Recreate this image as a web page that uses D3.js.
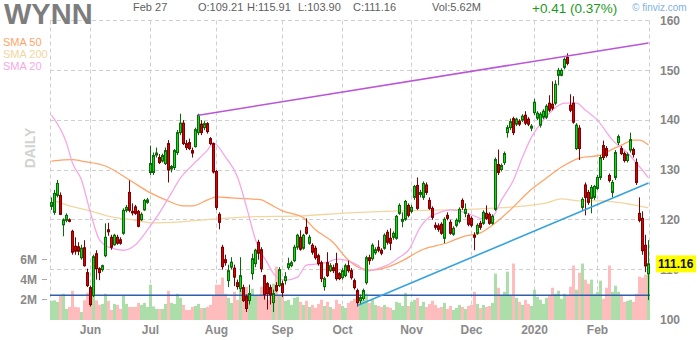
<!DOCTYPE html>
<html><head><meta charset="utf-8">
<script src="https://cdn.jsdelivr.net/npm/d3@7"></script>
<style>
html,body{margin:0;padding:0;background:#fff;}
svg{display:block;font-family:"Liberation Sans",Arial,Helvetica,sans-serif;}
</style></head><body>
<svg id="c" width="700" height="340"></svg>
<script>
// ---------------- DATA ----------------
const ticker = "WYNN";
const startDate = "2019-05-14";
const holidays = ["2019-05-27","2019-07-04","2019-09-02","2019-11-28","2019-12-25","2020-01-01","2020-01-20","2020-02-17"];
const headerLabels = ["Feb 27","O:109.21","H:115.91","L:103.90","C:111.16","Vol:5.62M"];
const changeLabel = "+0.41 (0.37%)";
const lastPrice = 111.16;

const opens = [122.7,121.5,124.9,124.9,119.0,119.9,120.0,117.7,114.7,114.6,112.4,114.4,109.4,106.4,104.8,113.2,110.2,110.0,112.8,118.0,
116.5,115.0,116.5,116.0,117.3,121.9,125.5,121.7,122.6,121.7,120.0,122.0,123.5,129.5,129.5,133.0,132.5,131.8,131.3,135.3,
130.2,130.5,133.5,137.5,139.4,135.3,135.5,133.9,134.7,137.5,139.2,138.5,139.3,136.3,135.3,129.7,121.1,114.5,112.0,107.8,
110.5,110.3,107.4,106.2,106.4,104.6,103.8,109.2,111.2,115.5,114.0,108.8,107.2,106.4,103.4,106.8,106.8,107.2,107.8,110.4,
110.8,111.8,114.5,116.5,114.3,118.5,115.3,114.9,114.3,112.8,111.4,106.6,111.4,109.8,110.4,111.2,109.2,108.4,108.8,110.8,
109.8,107.8,105.8,103.8,104.2,107.4,112.4,112.2,113.4,114.5,113.9,114.3,117.5,116.3,116.5,116.3,121.3,119.7,120.1,122.9,
121.7,124.5,126.9,125.1,124.5,127.0,123.9,122.3,118.9,118.8,119.1,116.3,120.9,119.5,117.1,118.9,119.7,123.9,121.3,120.9,
120.3,116.9,117.3,119.3,119.3,121.3,121.1,119.3,122.1,131.1,130.1,131.5,137.5,138.5,140.3,139.2,139.8,140.0,141.0,140.2,
138.4,141.5,140.4,139.0,140.6,140.6,143.4,143.2,143.4,149.0,149.0,150.6,152.6,143.0,143.4,134.3,138.4,122.5,127.0,125.5,
124.3,124.5,126.3,128.5,134.9,134.3,128.9,125.5,128.5,135.5,134.3,133.3,131.9,134.0,134.1,131.5,121.3,120.3,114.9,109.21];
const highs = [124.5,126.0,128.0,125.5,120.3,121.3,120.3,118.0,116.5,115.5,115.0,115.9,110.2,106.8,113.0,113.9,110.5,111.0,119.3,119.4,
117.0,117.2,117.0,116.5,122.3,123.0,127.9,123.3,123.0,122.0,121.5,124.2,124.4,134.9,133.5,134.5,133.2,133.3,134.5,136.0,
131.0,134.2,138.0,141.3,140.0,136.0,136.3,134.5,138.5,141.3,140.0,139.8,139.6,136.6,135.5,130.0,121.5,115.0,113.0,111.0,
112.5,111.0,108.0,112.5,107.0,105.0,107.0,113.2,114.2,116.0,114.5,109.0,107.5,107.0,106.0,107.5,110.5,107.8,109.5,112.4,
111.8,115.0,117.2,117.9,117.2,120.3,117.0,115.3,114.8,113.2,111.8,108.6,113.5,111.3,111.0,113.4,109.5,110.3,111.2,111.8,
110.3,108.2,106.2,105.0,106.2,112.8,113.0,115.3,114.5,115.9,114.3,117.3,118.0,118.3,117.7,121.0,123.3,121.5,124.0,123.3,
123.0,127.0,128.5,126.0,127.7,127.5,124.5,122.7,119.5,119.3,119.5,120.5,121.5,120.0,118.7,120.3,122.5,124.3,123.3,121.3,
120.7,117.5,119.3,119.8,121.9,122.9,121.5,121.1,132.5,134.1,131.3,133.7,139.0,140.3,140.7,140.5,140.2,141.2,141.8,140.6,
139.2,144.3,141.8,141.6,142.2,143.2,145.0,147.8,148.0,150.5,150.4,152.6,153.4,145.2,144.8,139.4,139.0,124.5,127.5,126.0,
127.0,127.0,129.0,133.0,135.9,134.8,129.3,128.0,134.0,137.1,134.8,133.7,133.5,137.5,134.5,132.3,124.5,121.7,117.0,115.91];
const lows = [122.0,121.0,124.5,121.0,116.7,119.5,119.5,113.0,113.0,112.9,112.0,110.6,106.5,102.6,104.5,108.0,107.9,109.6,112.5,116.8,
114.0,114.8,115.0,115.0,117.0,121.5,121.5,120.9,121.0,118.5,119.8,121.8,123.2,129.0,129.0,132.5,131.2,131.5,131.0,127.5,
129.5,130.0,133.0,137.0,135.0,134.0,134.0,132.5,134.5,137.0,137.0,138.0,137.3,135.0,129.3,122.0,118.1,110.0,110.8,106.5,
110.0,106.7,106.0,105.5,103.5,101.5,103.0,108.0,110.5,112.0,109.5,104.0,102.0,103.0,101.5,105.5,106.5,104.5,107.0,110.0,
110.5,111.5,114.0,113.8,114.0,117.0,115.0,113.0,112.0,110.8,107.5,105.8,108.5,109.5,109.3,107.8,107.9,108.0,108.5,109.4,
108.0,106.0,102.6,102.9,103.8,107.0,111.0,111.8,113.0,113.5,112.9,114.0,115.0,113.9,116.0,116.0,121.0,118.5,119.8,120.5,
121.3,124.0,122.0,124.5,124.0,125.0,122.0,120.0,118.0,117.6,117.0,115.3,119.9,117.0,116.8,118.5,119.3,122.0,120.5,118.7,
118.5,113.9,117.0,118.0,119.0,120.0,119.0,119.0,121.8,129.0,129.7,131.0,136.5,138.0,137.0,138.8,138.8,139.6,139.0,138.8,
137.8,141.0,140.0,138.5,140.2,140.2,141.6,142.0,143.0,147.0,148.8,150.2,151.0,141.6,139.3,134.0,132.0,122.0,120.9,123.0,
121.3,124.0,126.0,128.0,132.0,132.5,127.5,124.5,128.0,135.0,133.0,131.5,131.5,133.5,132.5,127.0,119.5,113.0,109.5,103.90];
const closes = [123.5,125.3,127.3,121.1,120.0,120.9,119.7,113.5,113.7,113.7,114.3,110.8,106.8,103.0,112.6,110.2,109.4,110.8,116.5,117.6,
114.5,116.9,115.3,115.3,121.9,122.5,121.9,121.4,121.3,118.7,121.1,123.9,124.0,131.3,132.9,133.4,131.5,132.9,133.9,130.0,
130.7,133.9,137.5,139.4,135.3,134.5,134.3,133.4,138.1,141.0,137.5,139.3,137.7,135.3,129.6,122.5,119.5,110.6,111.4,109.8,
111.5,108.5,106.6,108.8,103.8,102.2,105.2,112.2,113.9,113.3,110.2,105.0,105.2,105.0,105.2,105.8,110.0,105.4,108.6,111.2,
111.4,114.5,116.9,114.1,116.9,117.3,116.5,113.5,112.4,111.2,108.2,108.2,108.8,110.8,109.8,108.2,108.2,109.8,110.8,109.8,
108.4,106.4,103.4,104.4,105.8,112.4,111.8,114.9,114.0,113.9,113.3,116.9,115.5,115.3,117.3,120.7,122.9,120.1,123.7,120.9,
122.5,126.7,122.3,125.5,127.3,125.5,122.3,120.5,118.5,118.1,117.3,120.1,120.3,117.3,118.3,119.9,122.1,122.5,122.1,119.1,
118.9,116.5,118.9,118.5,121.5,120.3,119.3,120.7,132.1,129.5,130.9,133.3,138.5,139.7,137.5,140.2,139.2,140.8,139.4,139.2,
138.8,143.6,141.4,141.2,141.8,142.8,142.0,142.4,147.2,150.0,150.0,152.2,151.4,142.0,139.6,139.0,134.3,124.1,124.5,123.5,
126.5,126.7,128.5,132.5,132.5,132.9,127.9,127.5,133.5,136.7,133.3,131.9,133.1,136.1,133.1,127.5,119.9,113.8,110.75,111.16];
// volume in millions
const volumes = [1.9,1.95,1.8,2.4,2.6,1.1,1.3,2.9,1.3,1.25,0.8,1.95,2.7,3.0,2.4,1.95,1.5,1.6,2.6,1.9,
1.0,1.6,1.5,1.1,2.5,1.6,1.3,1.3,1.3,1.7,1.5,1.7,1.3,3.5,1.35,1.1,1.1,1.1,1.6,2.9,
1.7,1.6,2.6,2.2,1.5,1.0,1.0,1.3,1.4,1.6,1.2,1.2,1.3,1.5,2.4,3.5,3.5,4.2,2.6,2.2,
1.7,2.8,2.0,3.1,2.5,3.3,2.2,3.1,2.4,2.5,3.3,2.8,2.0,2.6,3.6,5.3,2.5,2.4,1.9,2.0,
1.5,2.2,2.3,1.8,1.5,1.9,1.3,1.5,1.2,1.6,2.0,1.4,1.8,1.3,1.1,2.0,1.6,1.4,1.2,1.7,
1.9,2.1,2.8,2.1,2.0,2.6,1.7,2.0,1.5,1.4,1.3,1.5,1.3,1.2,1.0,1.8,1.7,1.4,2.7,1.4,
1.8,2.0,2.2,1.4,1.8,1.3,1.6,1.9,1.5,1.2,1.3,1.7,1.1,1.4,1.0,1.2,1.5,1.3,1.1,1.4,
1.5,2.8,1.6,1.2,1.5,1.3,1.4,1.7,4.6,3.2,2.5,2.8,4.8,2.5,5.6,2.2,1.8,1.5,2.0,1.6,
1.4,3.0,2.3,2.0,1.6,2.2,2.5,3.2,2.6,2.9,2.1,2.6,2.4,3.3,5.4,3.0,4.7,5.6,4.0,3.6,
4.0,2.6,2.8,3.9,2.1,3.2,5.4,2.8,3.4,2.8,2.5,1.8,1.9,2.0,1.8,2.6,4.3,4.2,4.5,5.62];
const avgVolume = 2.45;

// moving averages: [bar index, price]
const sma20 = [[0,141.0],[5,135.4],[7,131.4],[10,128.0],[13,121.4],[16,116.0],[20,114.3],[24,113.9],[28,115.0],[32,118.0],
[36,121.4],[40,125.4],[43,128.4],[47,131.0],[52,134.0],[54,135.4],[58,132.6],[62,128.6],[65,122.6],[68,116.0],[72,111.3],
[75,108.5],[78,107.9],[82,108.5],[85,110.9],[88,111.1],[92,111.5],[95,112.1],[98,111.9],[102,110.9],[105,109.7],[108,110.1],
[112,110.9],[116,112.5],[119,113.9],[123,118.6],[126,120.6],[129,121.4],[133,122.0],[137,121.6],[140,121.0],[144,120.2],
[147,120.6],[150,124.0],[154,128.0],[157,132.6],[160,136.6],[164,140.0],[167,142.0],[171,143.4],[175,143.4],[178,142.0],
[182,140.0],[187,136.0],[192,133.4],[195,131.4],[199,128.4]];
const sma50 = [[0,131.8],[7,132.1],[10,131.8],[18,130.8],[26,128.0],[33,125.4],[38,124.0],[44,122.8],[47,122.8],[52,124.0],
[55,124.6],[60,124.4],[66,124.2],[70,124.0],[72,123.4],[77,121.8],[84,120.4],[88,118.0],[94,115.4],[98,112.5],[103,110.3],
[107,109.9],[112,110.5],[116,111.5],[124,114.1],[132,115.4],[137,116.6],[143,117.4],[148,119.4],[154,122.6],[159,125.6],
[165,128.4],[170,130.6],[176,132.4],[183,133.0],[187,134.2],[190,135.0],[194,136.0],[196,136.0],[199,135.0]];
const sma200 = [[0,124.0],[5,123.0],[14,121.6],[20,120.6],[27,120.0],[34,119.4],[43,119.6],[55,120.2],[66,120.6],[83,120.8],
[99,121.4],[116,121.8],[132,122.0],[143,122.2],[154,122.6],[165,123.4],[170,124.2],[176,123.8],[183,123.8],[194,123.0],[199,122.4]];

// trend lines: [bar index, price]
const purpleTrend = [[49,141.0],[199,155.5]];
const blueTrend = [[102,102.8],[199,127.4]];

const priceTicks = [100,110,120,130,140,150,160];
const volTicks = [2,4,6];
const monthTicks = [["2019-06-03","Jun"],["2019-07-01","Jul"],["2019-08-01","Aug"],["2019-09-03","Sep"],["2019-10-01","Oct"],
["2019-11-01","Nov"],["2019-12-02","Dec"],["2020-01-02","2020"],["2020-02-03","Feb"]];
const legend = [["SMA 50","#ffa468"],["SMA 200","#f2d6a0"],["SMA 20","#f5a8e6"]];

// ---------------- BUILD ----------------
const n = opens.length;
const dates = [];
{
  const hol = new Set(holidays);
  const d = new Date(startDate + "T12:00:00Z");
  while (dates.length < n) {
    const dow = d.getUTCDay(), s = d.toISOString().slice(0,10);
    if (dow !== 0 && dow !== 6 && !hol.has(s)) dates.push(s);
    d.setUTCDate(d.getUTCDate() + 1);
  }
}
const bars = dates.map((date,i)=>({date,i,o:opens[i],h:highs[i],l:lows[i],c:closes[i],v:volumes[i]}));

const L = 50, R = 650, T = 20.5, B = 319.5;
const x = d3.scaleBand().domain(dates).range([L,R]).padding(0);
const xc = i => x(dates[i]) + x.bandwidth()/2;
const y = d3.scaleLinear().domain([100,160]).range([B,T]);
const yv = d3.scaleLinear().domain([0,6]).range([320,259.5]);

const svg = d3.select("#c");
const grid = "#cfcfcf";
const dash = "4,3";

// grid
const g0 = svg.append("g");
priceTicks.filter(t=>t>100).forEach(t=>{
  const yy = Math.floor(y(t)) + 0.5;
  g0.append("line").attr("x1",L).attr("x2",R).attr("y1",yy).attr("y2",yy)
    .attr("stroke",grid).attr("stroke-dasharray",dash);
});
monthTicks.forEach(([d])=>{
  const xx = Math.floor(x(d) + x.bandwidth()/2) + 0.5;
  g0.append("line").attr("x1",xx).attr("x2",xx).attr("y1",T).attr("y2",320)
    .attr("stroke",grid).attr("stroke-dasharray",dash);
});
[L+0.5, R-0.5].forEach(xx=>{
  g0.append("line").attr("x1",xx).attr("x2",xx).attr("y1",T).attr("y2",320)
    .attr("stroke",grid).attr("stroke-dasharray",dash);
});

// volume
svg.append("g").selectAll("rect").data(bars).join("rect")
  .attr("x",d=>x(d.date)).attr("width",x.bandwidth())
  .attr("y",d=>yv(d.v)).attr("height",d=>yv(0)-yv(d.v))
  .attr("fill",d=>d.c>=d.o ? "#abdea8" : "#ffbcbc");

// avg volume line
svg.append("line").attr("x1",L).attr("x2",R).attr("y1",yv(avgVolume)).attr("y2",yv(avgVolume))
  .attr("stroke","#2f5fae").attr("stroke-width",1.5);

// moving averages
const ln = d3.line().x(d=>xc(d[0])).y(d=>y(d[1])).curve(d3.curveMonotoneX);
[[sma200,"#f2d6a0"],[sma50,"#ffa468"],[sma20,"#f5a8e6"]].forEach(([s,col])=>{
  svg.append("path").attr("d",ln(s)).attr("fill","none").attr("stroke",col).attr("stroke-width",1.3);
});

// candles
const up = {fill:"#14d814", stroke:"#0a6a0a"}, dn = {fill:"#dd0000", stroke:"#7e0000"};
const cg = svg.append("g");
cg.selectAll("line").data(bars).join("line")
  .attr("x1",d=>xc(d.i)).attr("x2",d=>xc(d.i))
  .attr("y1",d=>y(d.h)).attr("y2",d=>y(d.l))
  .attr("stroke",d=>d.c>=d.o?up.stroke:dn.stroke).attr("stroke-width",1);
cg.selectAll("rect").data(bars).join("rect")
  .attr("x",d=>x(d.date)+0.5).attr("width",x.bandwidth()-1)
  .attr("y",d=>y(Math.max(d.o,d.c)))
  .attr("height",d=>Math.max(1,Math.abs(y(d.o)-y(d.c))))
  .attr("fill",d=>d.c>=d.o?up.fill:dn.fill)
  .attr("stroke",d=>d.c>=d.o?up.stroke:dn.stroke).attr("stroke-width",1);

// trend lines
const tl = d3.line().x(d=>xc(d[0])).y(d=>y(d[1]));
svg.append("path").attr("d",tl(purpleTrend)).attr("stroke","#bb55d8").attr("stroke-width",1.6).attr("fill","none");
svg.append("path").attr("d",tl(blueTrend)).attr("stroke","#36a2e0").attr("stroke-width",1.6).attr("fill","none");

// right axis labels
svg.append("g").selectAll("text").data(priceTicks).join("text")
  .attr("x",660).attr("y",d=>y(d)).attr("dy","0.36em")
  .attr("font-size",12).attr("font-weight","bold").attr("fill","#858585").text(d=>d);

// last price badge
const ly = y(lastPrice);
svg.append("rect").attr("x",656).attr("y",ly-8.5).attr("width",40).attr("height",17).attr("fill","#ffff00");
svg.append("text").attr("x",658).attr("y",ly).attr("dy","0.36em").attr("font-size",12).attr("font-weight","bold")
  .attr("fill","#111").text(lastPrice.toFixed(2));

// volume labels
const vg = svg.append("g");
volTicks.forEach(t=>{
  vg.append("text").attr("x",37).attr("y",yv(t)).attr("dy","0.36em").attr("text-anchor","end")
    .attr("font-size",12).attr("font-weight","bold").attr("fill","#8a8a8a").text(t+"M");
  vg.append("line").attr("x1",42).attr("x2",47).attr("y1",Math.floor(yv(t))+0.5).attr("y2",Math.floor(yv(t))+0.5)
    .attr("stroke","#aaa");
});

// month labels
svg.append("g").selectAll("text").data(monthTicks).join("text")
  .attr("x",d=>x(d[0])+x.bandwidth()/2).attr("y",334).attr("text-anchor","middle")
  .attr("font-size",12).attr("font-weight","bold").attr("fill","#8a8a8a").text(d=>d[1]);

// header
svg.append("text").attr("x",4).attr("y",24).attr("font-size",29).attr("font-weight","bold")
  .attr("fill","#7d7d7d").text(ticker);
const hx = [133,198,247,298,353,432];
headerLabels.forEach((t,k)=>{
  svg.append("text").attr("x",hx[k]).attr("y",11).attr("font-size",11).attr("fill","#5e5e5e").text(t);
});
svg.append("text").attr("x",532).attr("y",13).attr("font-size",13.5).attr("fill","#1c9a1c").text(changeLabel);
svg.append("text").attr("x",632).attr("y",11).attr("font-size",10).attr("fill","#7fb2e0").text("© finviz.com");

// legend
legend.forEach(([t,col],k)=>{
  svg.append("text").attr("x",3).attr("y",46+k*12).attr("font-size",11).attr("fill",col).text(t);
});

// DAILY
svg.append("text").attr("transform","translate(35,148) rotate(-90)").attr("text-anchor","middle")
  .attr("font-size",14).attr("font-weight","bold").attr("fill","#d2d2d2").text("DAILY");
</script>
</body></html>
